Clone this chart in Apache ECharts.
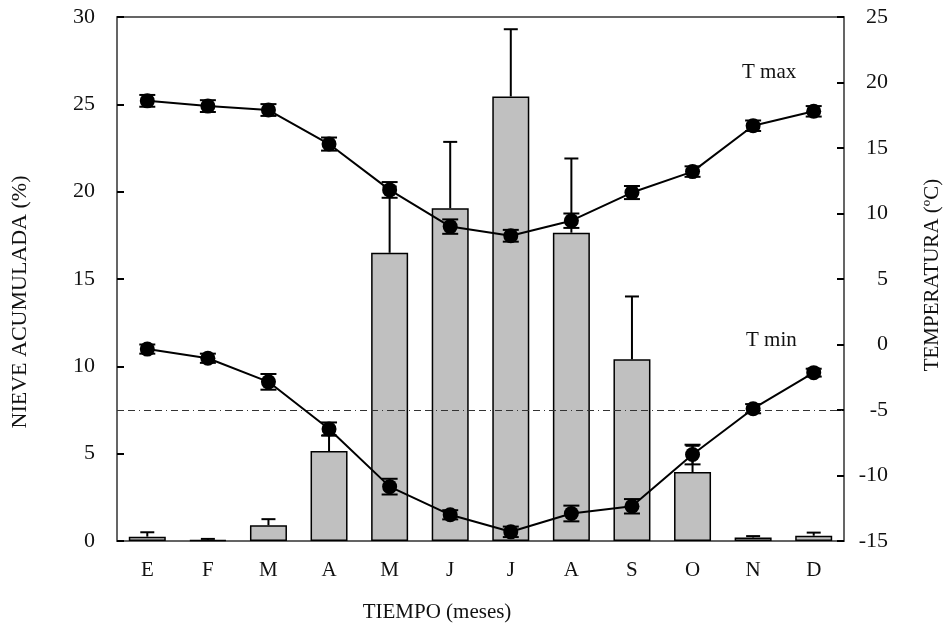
<!DOCTYPE html>
<html lang="es">
<head>
    <meta charset="UTF-8">
    <title>Nieve acumulada y temperatura</title>
    <script src="https://cdn.jsdelivr.net/npm/echarts@6/dist/echarts.min.js"></script>
</head>
<body style="margin:0">
<div style="width:950px;height:632px" id="main"></div>
<script>
    // meses
    var meses = ['E', 'F', 'M', 'A', 'M', 'J', 'J', 'A', 'S', 'O', 'N', 'D'];

    // nieve acumulada (%) y su error (solo hacia arriba)
    var nieve = [0.25, 0.05, 0.9, 5.15, 16.5, 19.05, 25.45, 17.65, 10.4, 3.95, 0.2, 0.3];
    var nieveErr = [0.25, 0.07, 0.35, 0.9, 3.8, 3.8, 3.85, 4.25, 3.6, 1.5, 0.08, 0.18];

    // temperaturas (ºC)
    var tmax = [18.6, 18.2, 17.9, 15.3, 11.8, 9.0, 8.3, 9.45, 11.6, 13.2, 16.7, 17.8];
    var tmaxErr = [0.45, 0.45, 0.45, 0.5, 0.6, 0.55, 0.45, 0.55, 0.5, 0.4, 0.4, 0.4];
    var tmin = [-0.35, -1.05, -2.85, -6.45, -10.85, -13.0, -14.3, -12.9, -12.35, -8.4, -4.9, -2.15];
    var tminErr = [0.35, 0.35, 0.6, 0.5, 0.6, 0.35, 0.4, 0.6, 0.55, 0.75, 0.35, 0.3];

    var fuente = '"Liberation Serif", "DejaVu Serif", serif';

    var chartDom = document.getElementById('main');
    var myChart = echarts.init(chartDom);

    function errData(vals, errs, upOnly) {
        return vals.map(function (v, i) {
            return [i, upOnly ? v : v - errs[i], v + errs[i]];
        });
    }

    function errRender(capW, bottomCap) {
        return function (params, api) {
            var lo = api.coord([api.value(0), api.value(1)]);
            var hi = api.coord([api.value(0), api.value(2)]);
            var st = { stroke: '#000', lineWidth: 2 };
            var kids = [
                { type: 'line', shape: { x1: lo[0], y1: lo[1], x2: hi[0], y2: hi[1] }, style: st },
                { type: 'line', shape: { x1: hi[0] - capW / 2, y1: hi[1], x2: hi[0] + capW / 2, y2: hi[1] }, style: st }
            ];
            if (bottomCap) {
                kids.push({ type: 'line', shape: { x1: lo[0] - capW / 2, y1: lo[1], x2: lo[0] + capW / 2, y2: lo[1] }, style: st });
            }
            return { type: 'group', children: kids };
        };
    }

    var option = {
        animation: false,
        textStyle: { fontFamily: fuente },
        grid: {
            left: 117,
            right: 106,
            top: 17,
            bottom: 91,
            show: true,
            borderColor: '#333',
            borderWidth: 1.5
        },
        xAxis: {
            type: 'category',
            data: meses,
            axisLine: { lineStyle: { color: '#666', width: 1.5 } },
            axisTick: { show: false },
            axisLabel: { color: '#111', fontSize: 21, margin: 19, fontFamily: fuente }
        },
        yAxis: [{
            type: 'value',
            min: 0,
            max: 30,
            interval: 5,
            splitLine: { show: false },
            axisLine: { show: true, lineStyle: { color: '#666', width: 1.5 } },
            axisTick: { show: true, inside: true, length: 7, lineStyle: { color: '#000', width: 2 } },
            axisLabel: { color: '#111', fontSize: 22, margin: 22, fontFamily: fuente }
        }, {
            type: 'value',
            min: -15,
            max: 25,
            interval: 5,
            splitLine: { show: false },
            axisLine: { show: true, lineStyle: { color: '#666', width: 1.5 } },
            axisTick: { show: true, inside: true, length: 7, lineStyle: { color: '#000', width: 2 } },
            axisLabel: { color: '#111', fontSize: 22, margin: 44, align: 'right', fontFamily: fuente }
        }],
        series: [{
            type: 'bar',
            data: nieve,
            barWidth: 37,
            itemStyle: { color: '#c0c0c0', borderColor: '#000', borderWidth: 1.5 },
            z: 2
        }, {
            type: 'custom',
            data: errData(nieve, nieveErr, true),
            renderItem: errRender(14, false),
            encode: { x: 0, y: [1, 2] },
            z: 1
        }, {
            type: 'custom',
            yAxisIndex: 1,
            data: errData(tmax, tmaxErr, false),
            renderItem: errRender(16, true),
            encode: { x: 0, y: [1, 2] },
            z: 4
        }, {
            type: 'custom',
            yAxisIndex: 1,
            data: errData(tmin, tminErr, false),
            renderItem: errRender(16, true),
            encode: { x: 0, y: [1, 2] },
            z: 4
        }, {
            type: 'line',
            yAxisIndex: 1,
            data: tmax,
            symbol: 'circle',
            symbolSize: 15,
            lineStyle: { color: '#000', width: 2 },
            itemStyle: { color: '#000' },
            z: 5
        }, {
            type: 'line',
            yAxisIndex: 1,
            data: tmin,
            symbol: 'circle',
            symbolSize: 15,
            lineStyle: { color: '#000', width: 2 },
            itemStyle: { color: '#000' },
            z: 5,
            markLine: {
                silent: true,
                symbol: 'none',
                label: { show: false },
                lineStyle: { color: '#333', width: 1, type: [7, 4, 7, 4, 1, 4] },
                data: [{ yAxis: -5 }]
            }
        }],
        graphic: [{
            type: 'text',
            left: 742,
            top: 62,
            style: { text: 'T max', font: '21px ' + fuente, fill: '#111' }
        }, {
            type: 'text',
            left: 746,
            top: 330,
            style: { text: 'T min', font: '21px ' + fuente, fill: '#111' }
        }, {
            type: 'text',
            x: 437,
            y: 612,
            style: { text: 'TIEMPO (meses)', font: '21px ' + fuente, fill: '#111', textAlign: 'center', textVerticalAlign: 'middle' }
        }, {
            type: 'text',
            x: 20,
            y: 302,
            rotation: Math.PI / 2,
            style: { text: 'NIEVE ACUMULADA (%)', font: '22px ' + fuente, fill: '#111', textAlign: 'center', textVerticalAlign: 'middle' }
        }, {
            type: 'text',
            x: 932,
            y: 275,
            rotation: Math.PI / 2,
            style: { text: 'TEMPERATURA (ºC)', font: '21px ' + fuente, fill: '#111', textAlign: 'center', textVerticalAlign: 'middle' }
        }]
    };

    myChart.setOption(option);
</script>
</body>
</html>
